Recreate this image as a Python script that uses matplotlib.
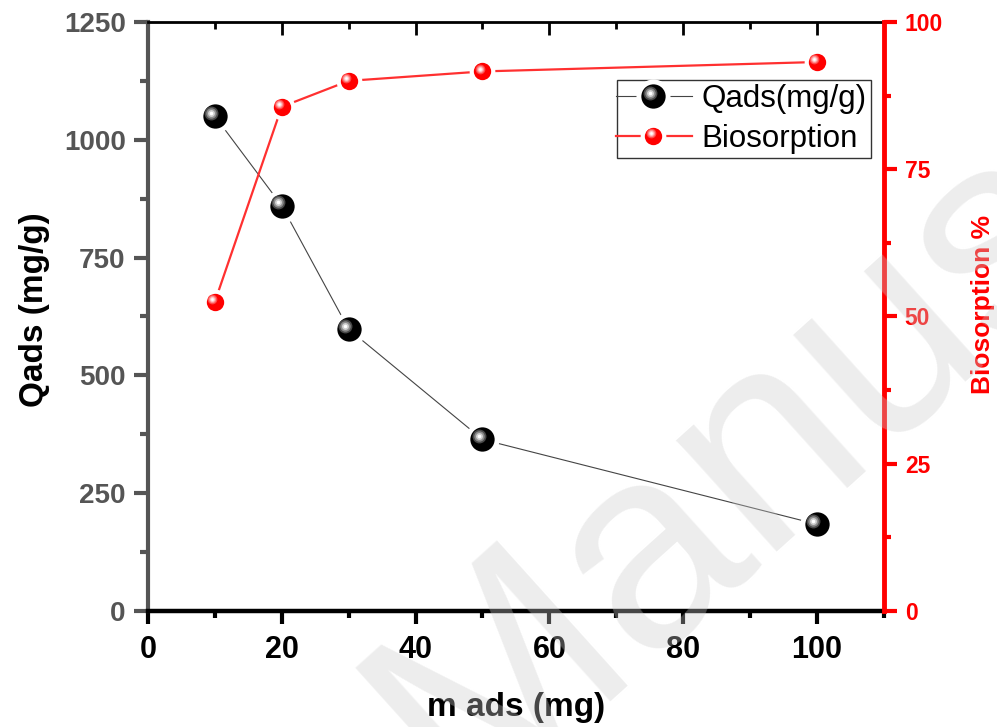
import numpy as np
import matplotlib
matplotlib.use("Agg")
import matplotlib.pyplot as plt
from matplotlib.lines import Line2D
from matplotlib.legend_handler import HandlerBase
from matplotlib.transforms import offset_copy
import matplotlib.ticker as tick

plt.rcParams["font.family"] = ["Liberation Sans", "DejaVu Sans"]

# adsorbent dose (mg)
m_ads = [10, 20, 30, 50, 100]
# adsorption capacity (mg/g)
qads = [1050, 860, 598, 364, 184]
# removal (%)
biosorption = [52.5, 85.6, 90.0, 91.6, 93.2]

NARROW = ["Liberation Sans Narrow", "Liberation Sans", "DejaVu Sans"]
GRAY = "#555555"


class Ball:
    """style of a shaded sphere marker + connecting line"""
    def __init__(self, ms, body, shades, off, line_c, lw, gap):
        self.ms = ms
        self.body = body
        self.shades = shades  # [(colour, size), ...] drawn on top, offset up-left
        self.off = off        # highlight offset in points
        self.line_c = line_c
        self.lw = lw
        self.gap = gap


def ball_artists(st, x, y, trans, fig=None, z=3):
    arts = [Line2D(x, y, color=st.line_c, lw=st.lw, transform=trans, zorder=z),
            Line2D(x, y, ls="none", marker="o", ms=st.ms + st.gap, mfc="white",
                   mec="none", transform=trans, zorder=z + 0.1),
            Line2D(x, y, ls="none", marker="o", ms=st.ms, mfc=st.body,
                   mec="none", transform=trans, zorder=z + 0.2)]
    if fig is not None:
        t2 = offset_copy(trans, fig=fig, x=-st.off, y=st.off, units="points")
        xx, yy = x, y
    else:
        # legend handle box is already in points
        t2 = trans
        xx = [v - st.off for v in x]
        yy = [v + st.off for v in y]
    for i, (c, s) in enumerate(st.shades):
        arts.append(Line2D(xx, yy, ls="none", marker="o", ms=s, mfc=c, mec="none",
                           transform=t2, zorder=z + 0.3 + 0.1 * i))
    return arts


class BallHandler(HandlerBase):
    def create_artists(self, legend, st, xdescent, ydescent, width, height,
                       fontsize, trans):
        cx = width * 0.45 - xdescent
        cy = height / 2 - ydescent
        line = Line2D([-xdescent - 4, width - xdescent], [cy, cy], color=st.line_c,
                      lw=st.lw, transform=trans)
        return [line] + ball_artists(st, [cx], [cy], trans)[1:]


black_ball = Ball(17.5, "black",
                  [("#4a4a4a", 10), ("#8c8c8c", 7.5), ("#cfcfcf", 5), ("white", 2.6)],
                  2.6, "#444444", 0.8, 7)
red_ball = Ball(12.5, "red",
                [("#ff4a4a", 7), ("#ff9090", 5.2), ("#ffd6d6", 3.4), ("white", 1.8)],
                1.9, "#ff3030", 1.6, 6)

fig = plt.figure(figsize=(9.97, 7.27), dpi=100)
ax = fig.add_axes([0.1484, 0.1596, 0.7382, 0.8102])
ax2 = ax.twinx()

for a in ball_artists(black_ball, m_ads, qads, ax.transData, fig):
    ax.add_line(a)
for a in ball_artists(red_ball, m_ads, biosorption, ax2.transData, fig):
    ax2.add_line(a)

ax.set_xlim(0, 110)
ax.set_ylim(0, 1250)
ax2.set_ylim(0, 100)

ax.xaxis.set_major_locator(tick.MultipleLocator(20))
ax.xaxis.set_minor_locator(tick.MultipleLocator(10))
ax.yaxis.set_major_locator(tick.MultipleLocator(250))
ax.yaxis.set_minor_locator(tick.MultipleLocator(125))
ax2.yaxis.set_major_locator(tick.MultipleLocator(25))
ax2.yaxis.set_minor_locator(tick.MultipleLocator(12.5))

# spines
ax.spines["left"].set_color(GRAY)
ax.spines["left"].set_linewidth(3)
ax.spines["bottom"].set_linewidth(3.2)
ax.spines["top"].set_linewidth(2)
ax.spines["right"].set_visible(False)
for s in ["left", "top", "bottom"]:
    ax2.spines[s].set_visible(False)
ax2.spines["right"].set_color("red")
ax2.spines["right"].set_linewidth(3.5)

ax.tick_params(axis="x", which="major", direction="out", length=9, width=3, color="black", pad=8)
ax.tick_params(axis="x", which="minor", direction="out", length=5, width=3, color="black")
ax.tick_params(axis="y", which="major", direction="out", length=10, width=3, color=GRAY,
               labelcolor=GRAY, labelsize=20, pad=6)
ax.tick_params(axis="y", which="minor", direction="out", length=6, width=3, color=GRAY)
ax2.tick_params(axis="y", which="major", direction="out", length=9, width=3, color="red",
                labelcolor="red", labelsize=16.5, pad=6)
ax2.tick_params(axis="y", which="minor", direction="out", length=5, width=3, color="red")
for t in ax.get_yticklabels():
    t.set_fontweight("bold")
for t in ax2.get_yticklabels():
    t.set_fontweight("bold")
for t in ax.get_xticklabels():
    t.set_fontweight("bold")
    t.set_fontsize(22)
    t.set_family(NARROW)

# mirrored ticks on top, pointing in
top = ax.secondary_xaxis("top")
top.xaxis.set_major_locator(tick.MultipleLocator(20))
top.xaxis.set_minor_locator(tick.MultipleLocator(10))
top.tick_params(which="major", direction="in", length=9, width=2, labeltop=False)
top.tick_params(which="minor", direction="in", length=5, width=2)
top.spines["top"].set_visible(False)

ax.set_xlabel("m ads (mg)", fontsize=24, fontweight="bold", family=NARROW, labelpad=20)
ax.set_ylabel("Qads (mg/g)", fontsize=24, fontweight="bold", labelpad=10)
ax.yaxis.label.set_y(0.512)
ax2.set_ylabel("Biosorption %", fontsize=19, fontweight="bold", color="red", labelpad=20)
ax2.yaxis.label.set_y(0.52)

leg = ax2.legend([black_ball, red_ball], ["Qads(mg/g)", "Biosorption"],
                 handler_map={Ball: BallHandler()},
                 loc="upper right", bbox_to_anchor=(0.9825, 0.902),
                 borderaxespad=0, fontsize=22.5, frameon=True,
                 fancybox=False, handlelength=2.25, handletextpad=0.3,
                 borderpad=0.15, labelspacing=0.3)
leg.get_frame().set_edgecolor("black")
leg.get_frame().set_linewidth(1)

# watermark
fig.text(0.465, -0.119, "Manuscript", fontsize=205, color="#cccccc", alpha=0.35,
         rotation=42, rotation_mode="anchor", ha="left", va="baseline", zorder=10)

fig.savefig("out.png", dpi=100)
